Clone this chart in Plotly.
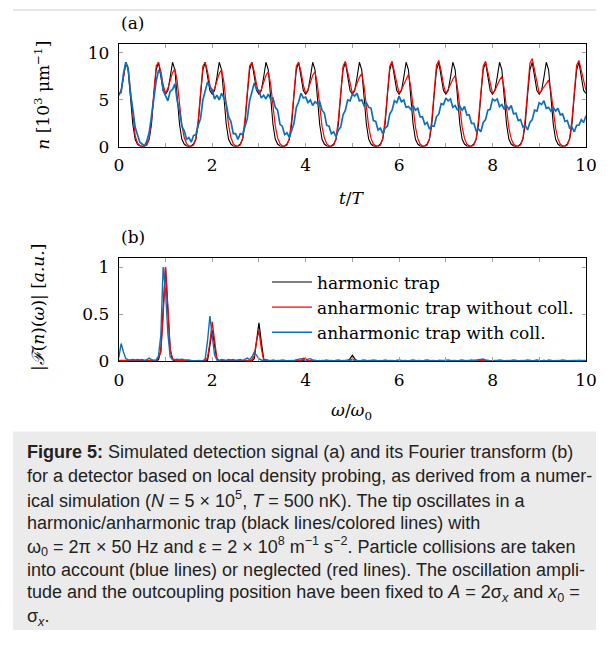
import numpy as np
import plotly.graph_objects as go

# ---------------- data: panel (a) ----------------
t_vals = np.round(np.arange(201) * 0.05, 2)

n_harmonic = [
    5.5, 6.0, 7.4, 9.0, 8.2, 5.5, 2.4, 0.8, 0.3, 0.1, 0.05, 0.1, 0.3, 0.8, 2.4, 5.5, 8.2, 9.0, 7.4, 6.0,
    5.6, 6.0, 7.4, 9.0, 8.2, 5.5, 2.4, 0.8, 0.3, 0.1, 0.05, 0.1, 0.3, 0.8, 2.4, 5.5, 8.2, 9.0, 7.4, 6.0,
    5.6, 6.0, 7.4, 9.0, 8.2, 5.5, 2.4, 0.8, 0.3, 0.1, 0.05, 0.1, 0.3, 0.8, 2.4, 5.5, 8.2, 9.0, 7.4, 6.0,
    5.6, 6.0, 7.4, 9.0, 8.2, 5.5, 2.4, 0.8, 0.3, 0.1, 0.05, 0.1, 0.3, 0.8, 2.4, 5.5, 8.2, 9.0, 7.4, 6.0,
    5.6, 6.0, 7.4, 9.0, 8.2, 5.5, 2.4, 0.8, 0.3, 0.1, 0.05, 0.1, 0.3, 0.8, 2.4, 5.5, 8.2, 9.0, 7.4, 6.0,
    5.6, 6.0, 7.4, 9.0, 8.2, 5.5, 2.4, 0.8, 0.3, 0.1, 0.05, 0.1, 0.3, 0.8, 2.4, 5.5, 8.2, 9.0, 7.4, 6.0,
    5.6, 6.0, 7.4, 9.0, 8.2, 5.5, 2.4, 0.8, 0.3, 0.1, 0.05, 0.1, 0.3, 0.8, 2.4, 5.5, 8.2, 9.0, 7.4, 6.0,
    5.6, 6.0, 7.4, 9.0, 8.2, 5.5, 2.4, 0.8, 0.3, 0.1, 0.05, 0.1, 0.3, 0.8, 2.4, 5.5, 8.2, 9.0, 7.4, 6.0,
    5.6, 6.0, 7.4, 9.0, 8.2, 5.5, 2.4, 0.8, 0.3, 0.1, 0.05, 0.1, 0.3, 0.8, 2.4, 5.5, 8.2, 9.0, 7.4, 6.0,
    5.6, 6.0, 7.4, 9.0, 8.2, 5.5, 2.4, 0.8, 0.3, 0.1, 0.05, 0.1, 0.3, 0.8, 2.4, 5.5, 8.2, 9.0, 7.4, 6.0,
    5.7,
]

n_anharm_nocoll = [
    5.5, 6.0, 7.4, 8.9, 8.3, 5.9, 3.0, 1.2, 0.4, 0.15, 0.05, 0.05, 0.2, 0.9, 2.9, 6.0, 8.6, 9.0, 8.0, 6.6,
    5.7, 6.2, 7.0, 7.9, 8.3, 7.0, 4.6, 2.3, 1.0, 0.35, 0.1, 0.05, 0.2, 0.9, 2.9, 6.0, 8.6, 9.0, 8.0, 6.6,
    5.7, 6.2, 7.0, 7.8, 8.2, 6.9, 4.5, 2.3, 1.0, 0.35, 0.1, 0.05, 0.2, 0.9, 2.9, 6.0, 8.6, 9.0, 8.0, 6.6,
    5.7, 6.1, 6.9, 7.6, 8.0, 6.7, 4.4, 2.2, 0.95, 0.35, 0.1, 0.05, 0.2, 0.9, 2.9, 6.0, 8.6, 9.0, 8.0, 6.6,
    5.7, 6.1, 6.9, 7.6, 8.0, 6.7, 4.4, 2.2, 0.95, 0.35, 0.1, 0.05, 0.2, 0.9, 2.9, 6.0, 8.6, 9.1, 8.0, 6.6,
    5.7, 6.1, 6.8, 7.4, 7.8, 6.5, 4.3, 2.1, 0.9, 0.3, 0.1, 0.05, 0.2, 0.9, 2.9, 6.0, 8.6, 9.1, 8.0, 6.6,
    5.7, 6.1, 6.7, 7.3, 7.7, 6.4, 4.2, 2.1, 0.9, 0.3, 0.1, 0.05, 0.2, 0.9, 2.9, 6.1, 8.7, 9.2, 8.1, 6.6,
    5.7, 6.1, 6.7, 7.2, 7.6, 6.3, 4.2, 2.1, 0.9, 0.3, 0.1, 0.05, 0.2, 0.9, 2.9, 6.0, 8.6, 9.1, 8.0, 6.6,
    5.7, 6.0, 6.6, 7.1, 7.5, 6.2, 4.1, 2.0, 0.85, 0.3, 0.1, 0.05, 0.2, 0.9, 3.0, 6.2, 8.9, 9.4, 8.2, 6.7,
    5.7, 6.0, 6.4, 6.8, 7.1, 5.9, 4.0, 2.0, 0.85, 0.3, 0.1, 0.05, 0.2, 0.9, 2.9, 6.1, 8.7, 9.2, 8.1, 6.8,
    6.0,
]

n_anharm_coll = [
    5.6, 5.8, 7.8, 9.0, 8.4, 5.7, 4.0, 2.1, 1.3, 0.5, 0.3, 0.1, 0.6, 1.5, 3.3, 5.0, 7.0, 8.1, 7.9, 6.0,
    5.5, 4.9, 5.9, 6.1, 6.7, 4.9, 3.8, 2.2, 1.7, 0.8, 1.0, 0.5, 1.2, 1.3, 2.3, 3.0, 5.0, 5.9, 6.9, 6.4,
    6.1, 5.1, 5.5, 5.0, 5.7, 5.2, 4.6, 3.2, 2.7, 1.4, 1.4, 0.8, 1.4, 1.3, 2.3, 3.0, 4.9, 5.8, 6.8, 6.1,
    6.0, 5.2, 5.5, 5.1, 5.6, 5.1, 5.2, 4.2, 3.9, 2.4, 2.2, 1.3, 1.5, 1.0, 1.9, 2.5, 4.2, 4.8, 5.7, 5.2,
    5.3, 4.7, 5.0, 4.4, 4.8, 4.6, 4.8, 3.9, 3.6, 2.3, 2.2, 1.4, 1.6, 1.1, 1.8, 2.1, 3.4, 3.9, 5.0, 4.9,
    5.6, 5.4, 5.7, 4.9, 5.0, 4.4, 4.7, 4.2, 4.1, 2.8, 2.7, 1.8, 2.0, 1.4, 2.0, 2.2, 3.5, 3.9, 4.9, 4.7,
    5.4, 4.8, 5.0, 4.2, 4.3, 4.0, 4.4, 3.9, 4.1, 3.2, 3.2, 2.4, 2.6, 1.9, 2.2, 2.2, 3.2, 3.5, 4.6, 4.5,
    5.2, 4.9, 5.1, 4.2, 4.4, 3.9, 4.3, 3.9, 4.3, 3.4, 3.4, 2.5, 2.5, 1.7, 1.9, 1.6, 2.6, 2.9, 3.9, 4.0,
    5.1, 4.9, 5.1, 4.3, 4.5, 4.0, 4.4, 4.0, 4.4, 3.5, 3.6, 2.8, 2.9, 2.1, 2.3, 1.8, 2.6, 2.9, 3.9, 3.8,
    4.7, 4.5, 4.9, 4.1, 4.2, 3.8, 4.2, 3.8, 4.1, 3.4, 3.5, 2.7, 2.8, 2.0, 2.1, 1.6, 2.3, 2.3, 2.9, 2.6,
    3.3,
]

# ---------------- data: panel (b) ----------------
w_vals = np.round(np.arange(201) * 0.05, 2)

F_harmonic = [
    0.01, 0.005, 0.005, 0.005, 0.005, 0.005, 0.005, 0.005, 0.005, 0.005, 0.005, 0.005, 0.005, 0.005, 0.005, 0.005, 0.005, 0.02, 0.12, 0.55,
    1.0, 0.55, 0.12, 0.02, 0.005, 0.005, 0.005, 0.005, 0.005, 0.005, 0.005, 0.005, 0.005, 0.005, 0.005, 0.005, 0.005, 0.005, 0.01, 0.17,
    0.33, 0.17, 0.02, 0.005, 0.005, 0.005, 0.005, 0.005, 0.005, 0.005, 0.005, 0.005, 0.005, 0.005, 0.005, 0.005, 0.005, 0.005, 0.03, 0.22,
    0.41, 0.21, 0.03, 0.005, 0.005, 0.005, 0.005, 0.005, 0.005, 0.005, 0.005, 0.005, 0.005, 0.005, 0.005, 0.005, 0.005, 0.005, 0.005, 0.01,
    0.02, 0.01, 0.005, 0.005, 0.005, 0.005, 0.005, 0.005, 0.005, 0.005, 0.005, 0.005, 0.005, 0.005, 0.005, 0.005, 0.005, 0.005, 0.005, 0.03,
    0.065, 0.03, 0.005, 0.005, 0.005, 0.005, 0.005, 0.005, 0.005, 0.005, 0.005, 0.005, 0.005, 0.005, 0.005, 0.005, 0.005, 0.005, 0.005, 0.005,
    0.005, 0.005, 0.005, 0.005, 0.005, 0.005, 0.005, 0.005, 0.005, 0.005, 0.005, 0.005, 0.005, 0.005, 0.005, 0.005, 0.005, 0.005, 0.005, 0.005,
    0.005, 0.005, 0.005, 0.005, 0.005, 0.005, 0.005, 0.005, 0.005, 0.005, 0.005, 0.005, 0.005, 0.005, 0.005, 0.005, 0.005, 0.005, 0.005, 0.005,
    0.005, 0.005, 0.005, 0.005, 0.005, 0.005, 0.005, 0.005, 0.005, 0.005, 0.005, 0.005, 0.005, 0.005, 0.005, 0.005, 0.005, 0.005, 0.005, 0.005,
    0.005, 0.005, 0.005, 0.005, 0.005, 0.005, 0.005, 0.005, 0.005, 0.005, 0.005, 0.005, 0.005, 0.005, 0.005, 0.005, 0.005, 0.005, 0.005, 0.005,
    0.005,
]

F_anharm_nocoll = [
    0.01, 0.01, 0.005, 0.005, 0.01, 0.005, 0.005, 0.01, 0.005, 0.005, 0.01, 0.005, 0.005, 0.01, 0.005, 0.01, 0.01, 0.04, 0.10, 0.5,
    1.0, 0.58, 0.13, 0.03, 0.01, 0.005, 0.01, 0.005, 0.005, 0.01, 0.005, 0.01, 0.005, 0.005, 0.01, 0.005, 0.005, 0.01, 0.04, 0.2,
    0.42, 0.22, 0.03, 0.01, 0.005, 0.01, 0.005, 0.005, 0.01, 0.005, 0.01, 0.005, 0.005, 0.01, 0.005, 0.01, 0.005, 0.02, 0.06, 0.22,
    0.33, 0.14, 0.02, 0.01, 0.005, 0.01, 0.005, 0.005, 0.01, 0.005, 0.005, 0.01, 0.005, 0.005, 0.01, 0.005, 0.005, 0.01, 0.01, 0.035,
    0.03, 0.01, 0.005, 0.005, 0.01, 0.005, 0.005, 0.01, 0.005, 0.005, 0.01, 0.005, 0.005, 0.01, 0.005, 0.005, 0.01, 0.005, 0.005, 0.015,
    0.025, 0.01, 0.005, 0.005, 0.01, 0.005, 0.005, 0.01, 0.005, 0.005, 0.01, 0.005, 0.005, 0.01, 0.005, 0.005, 0.01, 0.005, 0.005, 0.01,
    0.005, 0.005, 0.01, 0.005, 0.005, 0.01, 0.005, 0.005, 0.01, 0.005, 0.005, 0.01, 0.005, 0.005, 0.01, 0.005, 0.005, 0.01, 0.005, 0.005,
    0.01, 0.005, 0.005, 0.01, 0.005, 0.005, 0.01, 0.005, 0.005, 0.01, 0.005, 0.005, 0.01, 0.005, 0.005, 0.01, 0.005, 0.005, 0.01, 0.005,
    0.005, 0.01, 0.005, 0.005, 0.01, 0.005, 0.005, 0.01, 0.005, 0.005, 0.01, 0.005, 0.005, 0.01, 0.005, 0.005, 0.01, 0.005, 0.005, 0.01,
    0.005, 0.005, 0.01, 0.005, 0.005, 0.01, 0.005, 0.005, 0.01, 0.005, 0.005, 0.01, 0.005, 0.005, 0.01, 0.005, 0.005, 0.01, 0.005, 0.005,
    0.005,
]

F_anharm_coll = [
    0.04, 0.19, 0.10, 0.03, 0.02, 0.015, 0.02, 0.015, 0.02, 0.015, 0.02, 0.01, 0.02, 0.035, 0.02, 0.01, 0.015, 0.06, 0.28, 1.0,
    0.75, 0.3, 0.05, 0.02, 0.02, 0.025, 0.02, 0.025, 0.02, 0.02, 0.015, 0.01, 0.005, 0.005, 0.01, 0.005, 0.005, 0.03, 0.22, 0.48,
    0.3, 0.07, 0.015, 0.01, 0.02, 0.015, 0.01, 0.02, 0.015, 0.02, 0.01, 0.015, 0.02, 0.01, 0.02, 0.035, 0.02, 0.05, 0.10, 0.07,
    0.03, 0.015, 0.01, 0.02, 0.01, 0.005, 0.015, 0.01, 0.005, 0.01, 0.015, 0.01, 0.005, 0.01, 0.005, 0.01, 0.015, 0.02, 0.03, 0.02,
    0.01, 0.025, 0.03, 0.015, 0.01, 0.005, 0.01, 0.005, 0.01, 0.015, 0.005, 0.01, 0.005, 0.01, 0.015, 0.01, 0.005, 0.01, 0.015, 0.01,
    0.02, 0.015, 0.01, 0.005, 0.01, 0.015, 0.01, 0.005, 0.01, 0.015, 0.01, 0.005, 0.01, 0.005, 0.015, 0.01, 0.005, 0.01, 0.005, 0.01,
    0.015, 0.01, 0.005, 0.01, 0.005, 0.01, 0.015, 0.01, 0.005, 0.01, 0.005, 0.01, 0.015, 0.01, 0.005, 0.01, 0.005, 0.01, 0.01, 0.005,
    0.01, 0.015, 0.01, 0.005, 0.01, 0.005, 0.01, 0.015, 0.01, 0.005, 0.01, 0.015, 0.01, 0.015, 0.02, 0.02, 0.025, 0.015, 0.01, 0.005,
    0.01, 0.005, 0.01, 0.015, 0.01, 0.005, 0.01, 0.005, 0.01, 0.015, 0.01, 0.005, 0.01, 0.005, 0.01, 0.015, 0.01, 0.005, 0.01, 0.015,
    0.01, 0.005, 0.01, 0.005, 0.015, 0.01, 0.005, 0.01, 0.005, 0.01, 0.015, 0.01, 0.005, 0.01, 0.005, 0.01, 0.01, 0.005, 0.01, 0.005,
    0.01,
]

series_names = ["harmonic trap", "anharmonic trap without coll.", "anharmonic trap with coll."]
series_colors = ["#000000", "#ff0000", "#0d6fb8"]

x_ticks = list(range(0, 11))
x_ticktext = ["0", "", "2", "", "4", "", "6", "", "8", "", "10"]
ya_ticks = [0, 5, 10]
yb_ticks = [0, 0.5, 1]
yb_ticktext = ["0", "0.5", "1"]

caption_lines = [
    "<b>Figure 5:</b> Simulated detection signal (a) and its Fourier transform (b)",
    "for a detector based on local density probing, as derived from a numer-",
    "ical simulation (<i>N</i> = 5 × 10<sup>5</sup>, <i>T</i> = 500 nK). The tip oscillates in a",
    "harmonic/anharmonic trap (black lines/colored lines) with",
    "ω<sub>0</sub> = 2π × 50 Hz and ε = 2 × 10<sup>8</sup> m<sup>−1</sup> s<sup>−2</sup>. Particle collisions are taken",
    "into account (blue lines) or neglected (red lines). The oscillation ampli-",
    "tude and the outcoupling position have been fixed to <i>A</i> = 2σ<sub><i>x</i></sub> and <i>x</i><sub>0</sub> =",
    "σ<sub><i>x</i></sub>.",
]

# ---------------- figure ----------------
# The page keeps the browser's 8px body margin, so the figure is 16px smaller than the
# 615x648 window and positions below are given in window pixels, shifted by that margin.
OFF = 8
W, H = 615 - 2 * OFF, 648 - 2 * OFF
SERIF = "DejaVu Serif, Liberation Serif, serif"
SANS = "Liberation Sans, Arial, sans-serif"

def px_x(p):
    return max(0.0, min(1.0, (p - OFF) / W))

def px_y(p):
    return max(0.0, min(1.0, 1 - (p - OFF) / H))

fig = go.Figure()

top_series = [n_harmonic, n_anharm_nocoll, n_anharm_coll]
bot_series = [F_harmonic, F_anharm_nocoll, F_anharm_coll]
widths_top = [1.1, 1.2, 1.7]
widths_bot = [1.2, 1.3, 1.4]

for i in range(3):
    fig.add_trace(go.Scatter(x=t_vals, y=top_series[i], mode="lines", xaxis="x", yaxis="y",
                             line=dict(color=series_colors[i], width=widths_top[i]),
                             showlegend=False, hoverinfo="skip"))
for i in range(3):
    fig.add_trace(go.Scatter(x=w_vals, y=bot_series[i], mode="lines", xaxis="x2", yaxis="y2",
                             name=series_names[i],
                             line=dict(color=series_colors[i], width=widths_bot[i]),
                             showlegend=True, hoverinfo="skip"))

x_dom = [px_x(116.7), px_x(596.7)]
axis_common = dict(showline=True, linecolor="black", linewidth=1.2, mirror="ticks",
                   ticks="inside", ticklen=4, tickcolor="#a0a0a0", tickwidth=1,
                   showgrid=False, zeroline=False, ticklabeloverflow="allow",
                   tickfont=dict(family=SERIF, size=17, color="black"))

fig.update_layout(
    width=W, height=H,
    margin=dict(l=0, r=0, t=0, b=0),
    paper_bgcolor="white", plot_bgcolor="white",
    xaxis=dict(domain=x_dom, range=[0, 10], tickvals=x_ticks, ticktext=x_ticktext,
               anchor="y", ticklabelstandoff=3, **axis_common),
    yaxis=dict(domain=[px_y(148.3), px_y(43.3)], range=[0, 10.98], tickvals=ya_ticks,
               anchor="x", ticklabelstandoff=5, **axis_common),
    xaxis2=dict(domain=x_dom, range=[0, 10], tickvals=x_ticks, ticktext=x_ticktext,
                anchor="y2", ticklabelstandoff=3, **axis_common),
    yaxis2=dict(domain=[px_y(366.7), px_y(261.7)], range=[0, 1.094], tickvals=yb_ticks,
                ticktext=yb_ticktext, anchor="x2", ticklabelstandoff=5, **axis_common),
    legend=dict(x=px_x(269), y=px_y(268), xanchor="left", yanchor="top",
                bgcolor="rgba(0,0,0,0)", borderwidth=0,
                font=dict(family=SERIF, size=17, color="black"),
                tracegroupgap=0, itemwidth=40),
    showlegend=True,
)

shapes = [
    dict(type="rect", xref="paper", yref="paper", x0=0.0, x1=1.0, y0=0.0, y1=px_y(438),
         fillcolor="#ebebeb", line=dict(width=0), layer="below"),
    dict(type="line", xref="paper", yref="paper", x0=0.0, x1=1.0, y0=px_y(9), y1=px_y(9),
         line=dict(color="#dcdcdc", width=1.5)),
]
fig.update_layout(shapes=shapes)

ann = []
ann.append(dict(text="(a)", x=px_x(117), y=px_y(22), xref="paper", yref="paper",
                xanchor="left", yanchor="middle", showarrow=False,
                font=dict(family=SERIF, size=17, color="black")))
ann.append(dict(text="(b)", x=px_x(117), y=px_y(240), xref="paper", yref="paper",
                xanchor="left", yanchor="middle", showarrow=False,
                font=dict(family=SERIF, size=17, color="black")))
ann.append(dict(text="<i>t</i>/<i>T</i>", x=px_x(356), y=px_y(200), xref="paper", yref="paper",
                xanchor="center", yanchor="middle", showarrow=False,
                font=dict(family=SERIF, size=17, color="black")))
ann.append(dict(text="<i>ω</i>/<i>ω</i><sub>0</sub>", x=px_x(356), y=px_y(418), xref="paper", yref="paper",
                xanchor="center", yanchor="middle", showarrow=False,
                font=dict(family=SERIF, size=17, color="black")))
ann.append(dict(text="<i>n</i> [10<sup>3</sup> μm<sup>−1</sup>]", x=px_x(38), y=px_y(96),
                xref="paper", yref="paper", xanchor="center", yanchor="middle",
                textangle=-90, showarrow=False,
                font=dict(family=SERIF, size=17, color="black")))
ann.append(dict(text="|<i>ℱ</i>(<i>n</i>)(<i>ω</i>)| [<i>a.u.</i>]", x=px_x(33), y=px_y(312),
                xref="paper", yref="paper", xanchor="center", yanchor="middle",
                textangle=-90, showarrow=False,
                font=dict(family=SERIF, size=17, color="black")))

for i, line in enumerate(caption_lines):
    ann.append(dict(text=line, x=px_x(20), y=px_y(459 + 24 * i), xref="paper", yref="paper",
                    xanchor="left", yanchor="middle", showarrow=False, align="left",
                    font=dict(family=SANS, size=18, color="#222222")))

fig.update_layout(annotations=ann)

fig.write_html("out.html", config={"displayModeBar": False})
